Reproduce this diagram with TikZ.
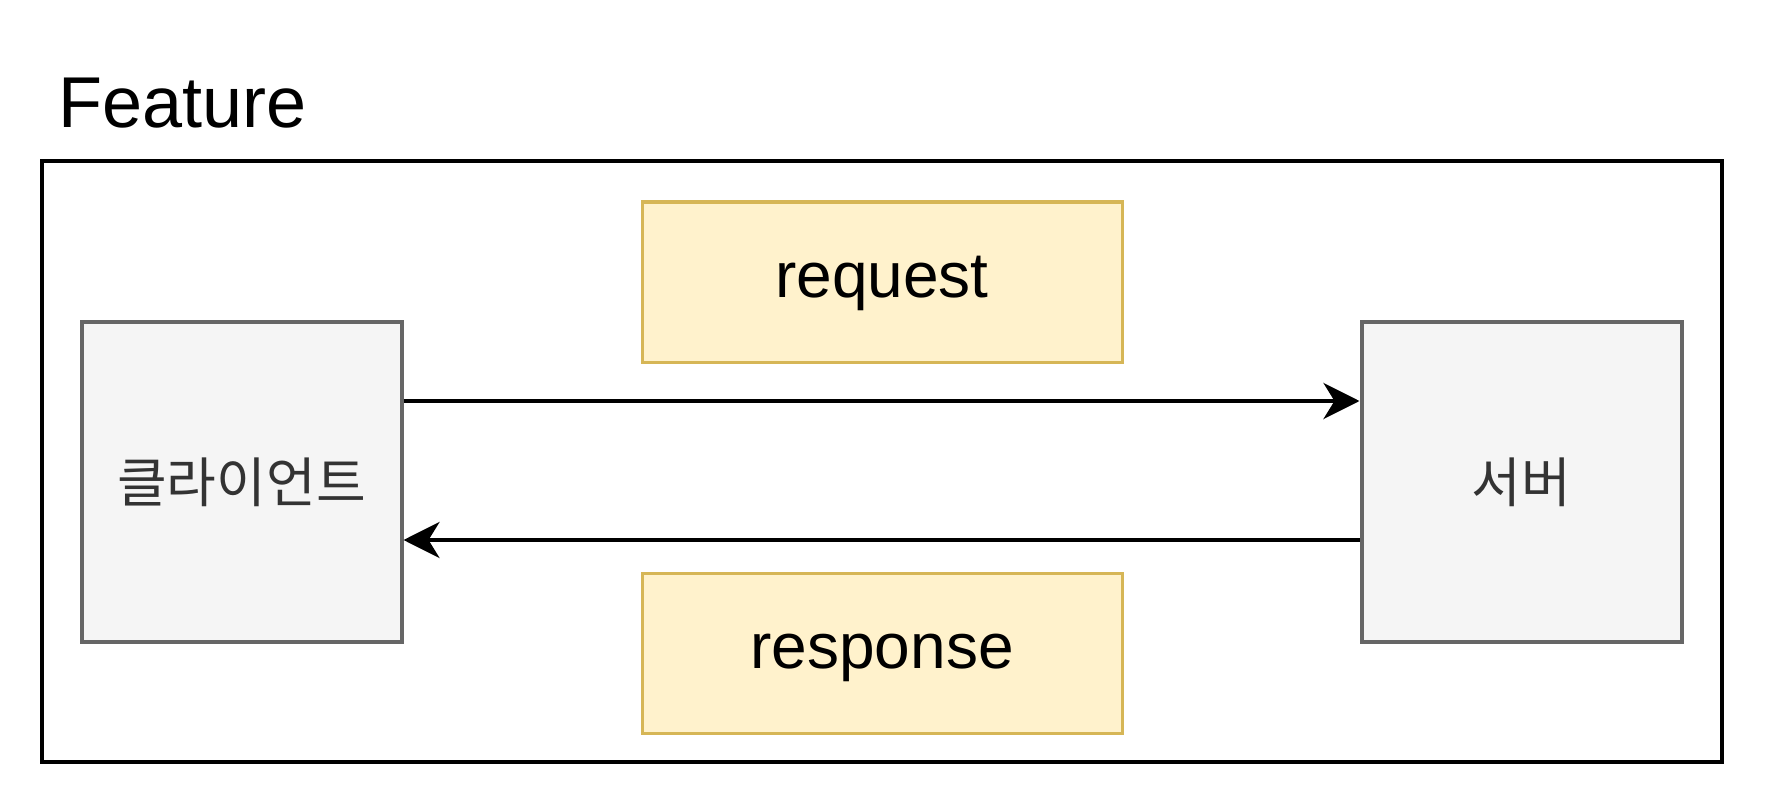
\documentclass[tikz,border=0pt]{standalone}
\usepackage{fontspec}
\setmainfont{Liberation Sans}
\newfontfamily\krfont{Noto Sans CJK KR}
\usetikzlibrary{arrows.meta}
\definecolor{grayfill}{HTML}{F5F5F5}
\definecolor{graydraw}{HTML}{666666}
\definecolor{yellowfill}{HTML}{FFF2CC}
\definecolor{yellowdraw}{HTML}{D6B656}
\definecolor{textgray}{HTML}{333333}

\begin{document}
\begin{tikzpicture}[x=0.5pt,y=-0.5pt,
    >={Stealth[length=18pt,width=18pt,inset=5.5pt]},
    peer/.style={draw=graydraw,fill=grayfill,line width=2pt,minimum width=160pt,minimum height=160pt,
        inner sep=0pt,text=textgray,font=\krfont\fontsize{27}{32}\selectfont},
    msg/.style={draw=yellowdraw,fill=yellowfill,line width=1.5pt,minimum width=240pt,minimum height=80pt,
        inner sep=0pt,text height=22pt,text depth=6.2pt,font=\fontsize{32}{38}\selectfont}]

    \useasboundingbox (0,0) rectangle (1768,808);

    % FRAME
    \node[draw,line width=2.3pt,minimum width=840pt,minimum height=300.5pt,inner sep=0pt] (frame) at (882,461.5) {};
    \node[anchor=base west,inner sep=0pt,font=\fontsize{36}{42}\selectfont] (title) at (58,128) {Feature};

    % BOXES
    \node[peer] (client) at (241.5,482) {클라이언트};
    \node[peer] (server) at (1521.5,482) {서버};
    \node[msg] (request) at (882,282) {request};
    \node[msg] (response) at (882,653) {response};

    % ARROWS
    \draw[->,line width=2.2pt] ([yshift=40.5pt]client.east) -- ([yshift=40.5pt]server.west);
    \draw[->,line width=2.2pt] ([yshift=-29pt]server.west) -- ([yshift=-29pt]client.east);

\end{tikzpicture}
\end{document}
